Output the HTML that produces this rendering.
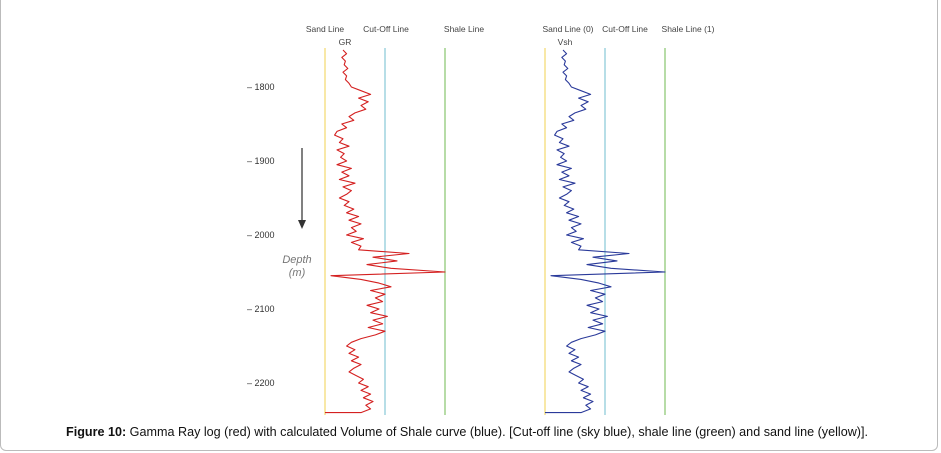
<!DOCTYPE html>
<html><head><meta charset="utf-8"><style>
body{margin:0;background:#fff;}
#wrap{position:relative;width:941px;height:453px;overflow:hidden;}
#frame{position:absolute;left:0;top:-10px;width:938px;height:461px;border:1px solid #bbb;border-radius:6px;box-sizing:border-box;}
svg{position:absolute;left:0;top:0;}
text{font-family:"Liberation Sans",sans-serif;}
</style></head><body>
<div id="wrap">
<div id="frame"></div>
<svg id="chart" width="941" height="453">
  <g font-size="8.5" fill="#444">
    <text x="325" y="32" text-anchor="middle">Sand Line</text>
    <text x="345" y="45" text-anchor="middle">GR</text>
    <text x="386" y="32" text-anchor="middle">Cut-Off Line</text>
    <text x="464" y="32" text-anchor="middle">Shale Line</text>
  </g>
  <g font-size="8.5" fill="#444">
    <text x="568" y="32" text-anchor="middle">Sand Line (0)</text>
    <text x="565" y="45" text-anchor="middle">Vsh</text>
    <text x="625" y="32" text-anchor="middle">Cut-Off Line</text>
    <text x="688" y="32" text-anchor="middle">Shale Line (1)</text>
  </g>
  <g id="ticks" font-size="9" fill="#333"></g>
  <g>
    <line x1="302" y1="148" x2="302" y2="222" stroke="#555" stroke-width="1.5"/>
    <polygon points="298,220 306,220 302,229" fill="#333"/>
  </g>
  <text x="297" y="263" text-anchor="middle" font-size="11" font-style="italic" fill="#777">Depth</text>
  <text x="297" y="276" text-anchor="middle" font-size="11" font-style="italic" fill="#777">(m)</text>
  <g id="tracks"></g>
  <text x="66" y="436" font-size="13" textLength="802" lengthAdjust="spacingAndGlyphs" fill="#111"><tspan font-weight="bold">Figure 10:</tspan> Gamma Ray log (red) with calculated Volume of Shale curve (blue). [Cut-off line (sky blue), shale line (green)  and sand line (yellow)].</text>
</svg>
</div>
<script>
const depthTicks = [1800, 1900, 2000, 2100, 2200];
const depthStart = 1750;
const depthStep = 5;
const grValues = [
.15,.18,.14,.17,.16,.19,.15,.18,.17,.20,
.22,.30,.38,.28,.36,.30,.34,.25,.20,.24,
.14,.18,.10,.08,.15,.12,.20,.10,.16,.13,
.18,.10,.22,.14,.20,.12,.25,.15,.22,.18,
.12,.20,.16,.24,.18,.28,.20,.30,.22,.26,
.18,.32,.22,.30,.28,.70,.40,.60,.35,.55,
1.0,.05,.30,.45,.55,.38,.50,.42,.48,.35,
.45,.38,.52,.40,.48,.36,.50,.42,.30,.22,
.18,.25,.20,.28,.22,.30,.24,.20,.26,.32,
.28,.36,.30,.38,.32,.40,.34,.38,.30];
const vshValues = [
.15,.18,.14,.17,.16,.19,.15,.18,.17,.20,
.22,.30,.38,.28,.36,.30,.34,.25,.20,.24,
.14,.18,.10,.08,.15,.12,.20,.10,.16,.13,
.18,.10,.22,.14,.20,.12,.25,.15,.22,.18,
.12,.20,.16,.24,.18,.28,.20,.30,.22,.26,
.18,.32,.22,.30,.28,.70,.40,.60,.35,.55,
1.0,.05,.30,.45,.55,.38,.50,.42,.48,.35,
.45,.38,.52,.40,.48,.36,.50,.42,.30,.22,
.18,.25,.20,.28,.22,.30,.24,.20,.26,.32,
.28,.36,.30,.38,.32,.40,.34,.38,.30];
const cutoffValue = 0.5;

const NS = "http://www.w3.org/2000/svg";
const yScale = d => 87 + (d - 1800) * 0.74;
const trackTop = 48, trackBottom = 415;
function xScale(left){ return v => left + v * 120; }

const ticksG = document.getElementById('ticks');
depthTicks.forEach(d => {
  const t = document.createElementNS(NS, 'text');
  
  
  t.setAttribute('x', 247); t.setAttribute('y', yScale(d) + 3);
  t.textContent = '\u2013 ' + d;
  ticksG.appendChild(t);
});

function drawTrack(left, values, color, name){
  const xs = xScale(left);
  const g = document.getElementById('tracks');
  const lines = [[0,'#f5e08a','sand-line'],[cutoffValue,'#9fd3df','cutoff-line'],[1,'#9fd08a','shale-line']];
  lines.forEach(([v,c,n]) => {
    const l = document.createElementNS(NS,'line');
    
    
    l.setAttribute('x1', xs(v)); l.setAttribute('x2', xs(v));
    l.setAttribute('y1', trackTop); l.setAttribute('y2', trackBottom);
    l.setAttribute('stroke', c); l.setAttribute('stroke-width', 1.5);
    g.appendChild(l);
  });
  let d = '';
  values.forEach((v,i) => {
    const y = yScale(depthStart + i*depthStep);
    d += (i ? 'L' : 'M') + xs(v).toFixed(1) + ',' + y.toFixed(1) + ' ';
  });
  const lastY = yScale(depthStart + (values.length-1)*depthStep);
  d += 'L' + xs(0) + ',' + lastY.toFixed(1);
  const p = document.createElementNS(NS,'path');
  
  
  p.setAttribute('d', d); p.setAttribute('fill','none');
  p.setAttribute('stroke', color); p.setAttribute('stroke-width', 1.1);
  p.setAttribute('stroke-linejoin','round');
  g.appendChild(p);
}
drawTrack(325, grValues, '#d42020', 'gr');
drawTrack(545, vshValues, '#2a3a9a', 'vsh');
</script>
</body></html>
